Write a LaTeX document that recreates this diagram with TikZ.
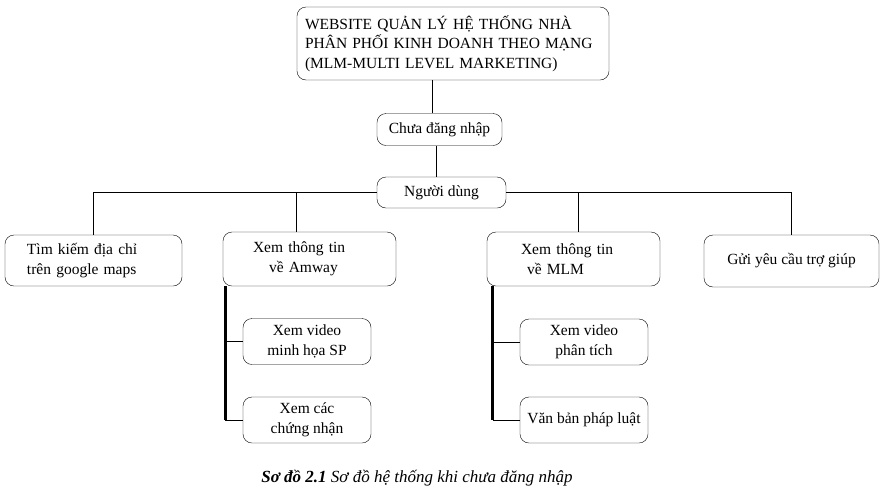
\documentclass[tikz,border=0pt]{standalone}
\usepackage{fontspec}
\setmainfont{Liberation Serif}
\usepackage{tikz}
\usetikzlibrary{positioning, calc}
\tikzset{
    boxR/.style args={#1 #2}{
        draw, rounded corners=9pt, inner sep=0pt, align=center,
        minimum width=#1, minimum height=#2,
        font=\fontsize{15.5}{19.5}\selectfont
    },
    boxR/.default={128pt 46pt},
    spineL/.style={line width=3.2pt},
    linkL/.style={line width=0.8pt}
}

\begin{document}
\begin{tikzpicture}[x=1pt, y=-1pt]
    \useasboundingbox (0,0) rectangle (883,499);
    \node[boxR={312pt 73pt}, text width=296pt, align=left] (top) at (453,43.5)
        {WEBSITE QUẢN LÝ HỆ THỐNG NHÀ\\PHÂN PHỐI KINH DOANH THEO MẠNG\\(MLM-MULTI LEVEL MARKETING)};
    \node[boxR={125pt 32pt}] (chua) at (439.5,129.5) {Chưa đăng nhập};
    \node[boxR={129pt 31pt}] (nguoi) at (441.5,192.5) {Người dùng};
    \node[boxR={177pt 51pt}, text width=133pt, align=left] (tim) at (93.5,260.5) {Tìm kiếm địa chỉ\\trên google maps};
    \node[boxR={173pt 54pt}, text width=113pt, align=left] (amway) at (309.5,259) {Xem thông tin\\\hspace*{16pt}về Amway};
    \node[boxR={173pt 54pt}, text width=105pt, align=left] (mlm) at (573.5,259) {Xem thông tin\\\hspace*{6pt}về MLM};
    \node[boxR={175pt 52pt}] (gui) at (791.5,261) {Gửi yêu cầu trợ giúp};
    \node[boxR] (video) at (307,341.5) {Xem video\\minh họa SP};
    \node[boxR] (chung) at (307,420) {Xem các\\chứng nhận};
    \node[boxR] (phantich) at (584,342) {Xem video\\phân tích};
    \node[boxR] (vanban) at (584,420) {Văn bản pháp luật};
    \node[font=\fontsize{17}{20}\selectfont\itshape] (cap) at (417,478)
        {\textbf{Sơ đồ 2.1} Sơ đồ hệ thống khi chưa đăng nhập};
    % tree
    \draw[linkL] ([xshift=-7pt]chua.north) -- ([xshift=-7pt]chua.north |- top.south);
    \draw[linkL] ([xshift=-5pt]nguoi.north) -- ([xshift=-5pt]nguoi.north |- chua.south);
    \draw[linkL] (nguoi.west) -| (tim.north);
    \draw[linkL] (nguoi.east) -| (gui.north);
    \draw[linkL] ([xshift=-13pt]amway.north) |- (nguoi.west);
    \draw[linkL] ([xshift=4.5pt]mlm.north) |- (nguoi.east);
    % sub branches
    \coordinate (aT) at ([xshift=2.5pt]amway.south west);
    \coordinate (mT) at ([xshift=6pt]mlm.south west);
    \draw[spineL] (aT) -- (aT |- chung.west);
    \draw[linkL] (aT |- video.west) -- (video.west);
    \draw[linkL] (aT |- chung.west) -- (chung.west);
    \draw[spineL] (mT) -- (mT |- vanban.west);
    \draw[linkL] (mT |- phantich.west) -- (phantich.west);
    \draw[linkL] (mT |- vanban.west) -- (vanban.west);
\end{tikzpicture}
\end{document}
